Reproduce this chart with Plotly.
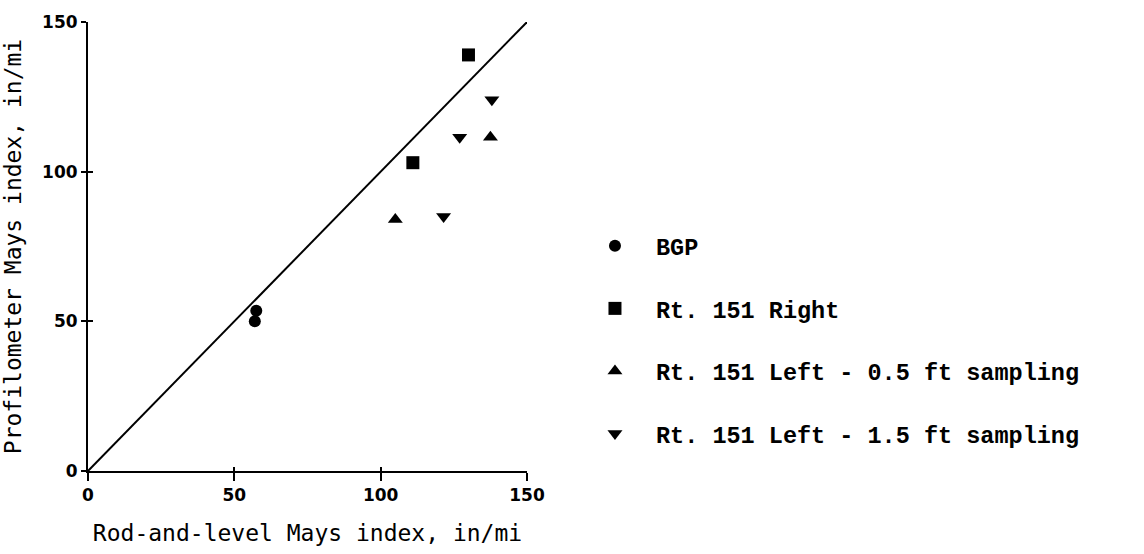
import plotly.graph_objects as go

# Mays index measurements (in/mi): rod-and-level (x) vs profilometer (y)
bgp_x = [57.5, 57.0]
bgp_y = [53.5, 50.0]
right_x = [130.0, 111.0]
right_y = [139.0, 103.0]
left05_x = [105.0, 137.5]
left05_y = [84.0, 111.5]
left15_x = [121.5, 127.0, 138.0]
left15_y = [85.0, 111.5, 124.0]

# line of equality
eq_line = [0, 150]

series_names = [
    "BGP",
    "Rt. 151 Right",
    "Rt. 151 Left - 0.5 ft sampling",
    "Rt. 151 Left - 1.5 ft sampling",
]

axis_range = [0, 150]
tick_vals = [0, 50, 100, 150]

fig = go.Figure()

fig.add_trace(go.Scatter(
    x=eq_line, y=eq_line, mode="lines",
    line=dict(color="black", width=2),
    showlegend=False, hoverinfo="skip",
    xaxis="x2", yaxis="y2",
))

marker_specs = [
    (bgp_x, bgp_y, "circle", 12),
    (right_x, right_y, "square", 13),
    (left05_x, left05_y, "triangle-up", 13),
    (left15_x, left15_y, "triangle-down", 13),
]
for i, (xs, ys, sym, sz) in enumerate(marker_specs):
    fig.add_trace(go.Scatter(
        x=xs, y=ys, mode="markers", name=series_names[i],
        legendgroup=f"g{i}",
        marker=dict(symbol=sym, size=sz, color="black", line=dict(width=0)),
        cliponaxis=False,
    ))

tick_font = dict(family="DejaVu Sans", size=17, color="black", weight="bold")
title_font = dict(family="DejaVu Sans Mono", size=23, color="black")

fig.update_layout(
    width=1144, height=554,
    margin=dict(l=87, r=617, t=16, b=80),
    paper_bgcolor="white", plot_bgcolor="white",
    showlegend=True,
    legend=dict(
        x=1.107, y=0.55, xanchor="left", yanchor="top",
        font=dict(family="Liberation Mono", size=23.5, color="black", weight="bold"),
        itemwidth=72,
        tracegroupgap=29, bgcolor="rgba(0,0,0,0)",
    ),
    xaxis=dict(
        range=axis_range, tickvals=tick_vals, showgrid=False, zeroline=False,
        showline=True, linecolor="black", linewidth=2,
        ticks="outside", ticklen=8, tickwidth=2, tickcolor="black",
        tickfont=tick_font,
        title=dict(text="Rod-and-level Mays index, in/mi", font=title_font, standoff=20),
    ),
    yaxis=dict(
        range=axis_range, tickvals=tick_vals, showgrid=False, zeroline=False,
        showline=True, linecolor="black", linewidth=2,
        ticks="outside", ticklen=5, tickwidth=2, tickcolor="black",
        tickfont=tick_font,
        title=dict(text="Profilometer Mays index, in/mi", font=title_font, standoff=14),
    ),
    xaxis2=dict(
        range=axis_range, tickvals=tick_vals, overlaying="x", anchor="y2",
        showgrid=False, zeroline=False, showline=False, showticklabels=False,
        ticks="inside", ticklen=4, tickwidth=2, tickcolor="black",
    ),
    yaxis2=dict(
        range=axis_range, tickvals=tick_vals, overlaying="y", anchor="x2",
        showgrid=False, zeroline=False, showline=False, showticklabels=False,
        ticks="inside", ticklen=5, tickwidth=2, tickcolor="black",
    ),
)

fig.write_html("out.html")
